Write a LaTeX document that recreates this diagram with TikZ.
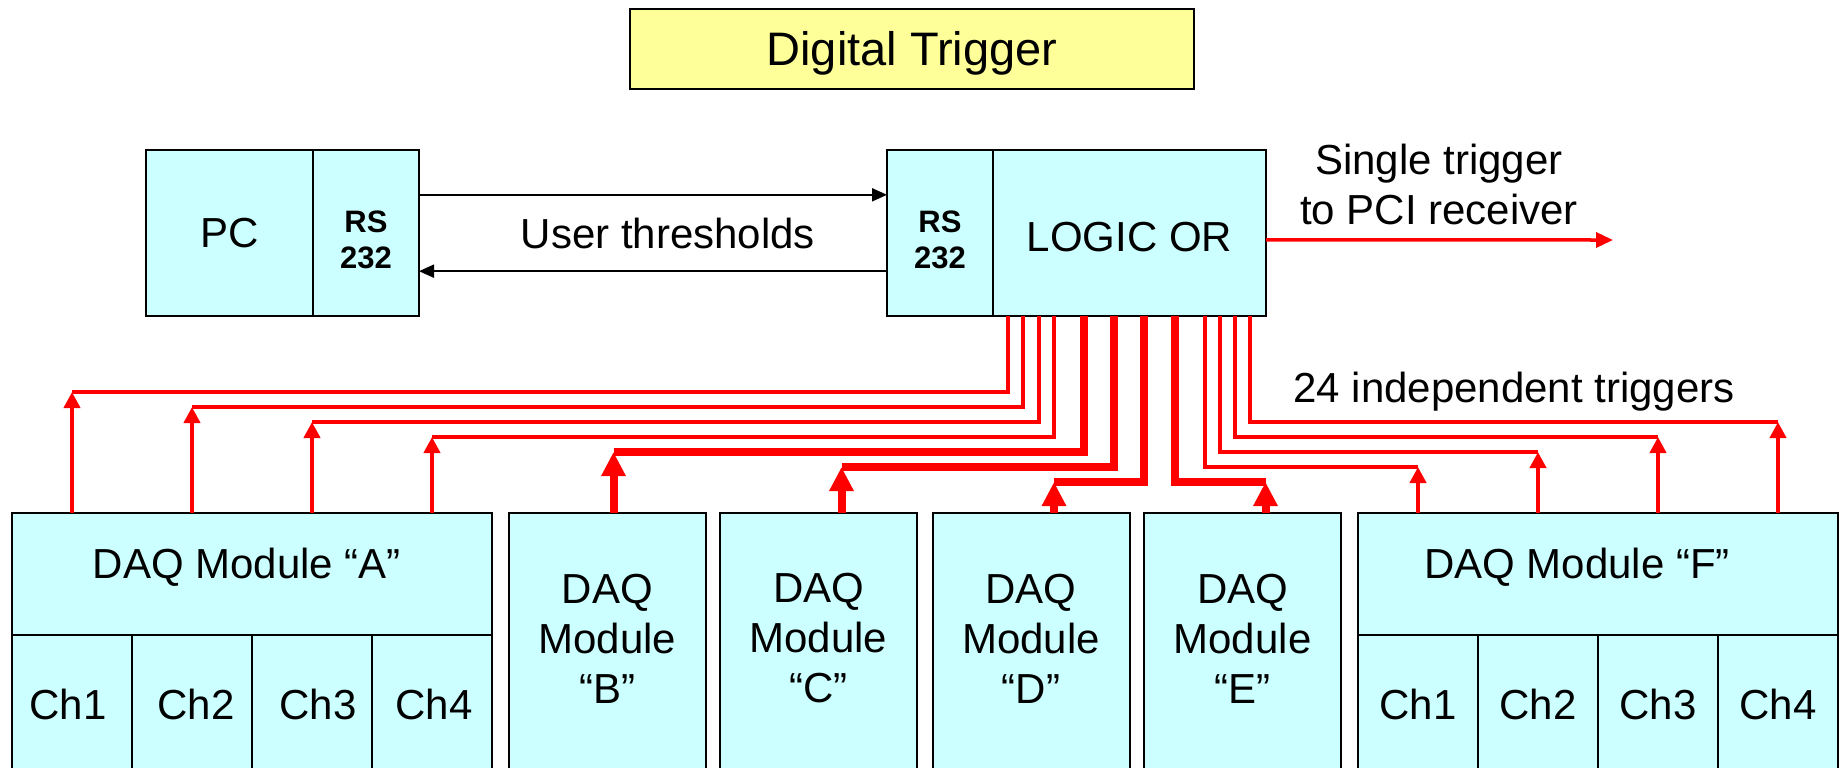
\documentclass[tikz,border=0pt]{standalone}
\usepackage{fontspec}
\setmainfont{Liberation Sans}
\usetikzlibrary{arrows.meta,calc}
\definecolor{boxcyan}{HTML}{CCFFFF}
\definecolor{titleyellow}{HTML}{FFFF99}
\definecolor{trigred}{HTML}{FF0000}

\begin{document}
\begin{tikzpicture}[x=1pt,y=-1pt,
  box/.style={draw=black, line width=2pt, fill=boxcyan, inner sep=0pt, outer sep=0pt},
  lbl/.style={font=\fontsize{42}{50}\selectfont, align=center, inner sep=0pt},
  rslbl/.style={font=\fontsize{31}{36}\selectfont\bfseries, align=center, inner sep=0pt},
  link/.style={draw=black, line width=2pt, -{Triangle[width=13pt,length=15pt]}},
  trig/.style={draw=trigred, line width=4.5pt},
  trigbus/.style={draw=trigred, line width=8pt},
  thintip/.style={-{Triangle[width=16pt,length=16pt]}},
  thicktip/.style={-{Triangle[width=23pt,length=24pt]}},
]
\useasboundingbox (0,0) rectangle (1845,768);
\clip (0,0) rectangle (1845,768);

% title
\node[draw=black, line width=2.5pt, fill=titleyellow, minimum width=564pt,
      minimum height=80pt] (title) at (912,49) {};
\node[lbl, font=\fontsize{47}{56}\selectfont] (titletext) at ($(title.center)+(0,4)$) {Digital Trigger};

% PC with its serial port
\node[box, minimum width=167pt, minimum height=166pt] (pc) at (229.5,233) {};
\node[box, minimum width=106pt, minimum height=166pt] (pcrs) at (366,233) {};
\node[lbl] (pctext) at (pc.center) {PC};
\node[rslbl] (pcrstext) at ($(pcrs.center)+(0,7)$) {RS\\232};

% trigger logic with its serial port
\node[box, minimum width=106pt, minimum height=166pt] (lors) at (940,233) {};
\node[box, minimum width=273pt, minimum height=166pt] (lor) at (1129.5,233) {};
\node[rslbl] (lorstext) at ($(lors.center)+(0,7)$) {RS\\232};
\node[lbl] (lortext) at ($(lor.center)+(0,4)$) {LOGIC OR};

% serial link
\draw[link] ($(pcrs.north east)!0.27!(pcrs.south east)$) -- ($(lors.north west)!0.27!(lors.south west)$);
\draw[link] ($(lors.north west)!0.73!(lors.south west)$) -- ($(pcrs.north east)!0.73!(pcrs.south east)$);
\node[lbl] (thr) at (668,233) {User thresholds};

% single trigger output
\coordinate (pci) at (1613,240);
\draw[draw=trigred, line width=3.5pt, -{Triangle[width=15pt,length=17pt]}]
  ($(lor.north east)!0.542!(lor.south east)$) -- (pci);
\node[lbl] (pcitext) at (1439,184) {Single trigger\\to PCI receiver};
\node[lbl] (indep) at (1514,392) {24 independent triggers};

% DAQ module A
\node[box, minimum width=480pt, minimum height=122pt] (modA) at (252,574) {};
\node[lbl] (modAtext) at ($(modA.center)+(-5,-7)$) {DAQ Module “A”};
\foreach \i/\cx/\tx in {1/72/-4,2/192/4,3/312/6,4/432/2}{
  \node[box, minimum width=120pt, minimum height=138pt] (chA\i) at (\cx,704) {};
  \node[lbl] (chA\i text) at ($(chA\i.center)+(\tx,0)$) {Ch\i};
}

% DAQ modules B to E
\foreach \m/\cx in {B/607.5,C/818.5,D/1031,E/1242.5}{
  \node[box, minimum width=197pt, minimum height=270pt] (mod\m) at (\cx,648) {};
  \node[lbl] (mod\m text) at ($(mod\m.north)+(0,125.5)$) {DAQ\\Module\\“\m”};
}

% DAQ module F
\node[box, minimum width=480pt, minimum height=122pt] (modF) at (1598,574) {};
\node[lbl] (modFtext) at ($(modF.center)+(-21,-7)$) {DAQ Module “F”};
\foreach \i/\cx in {1/1418,2/1538,3/1658,4/1778}{
  \node[box, minimum width=120pt, minimum height=138pt] (chF\i) at (\cx,704) {};
  \node[lbl] (chF\i text) at (chF\i.center) {Ch\i};
}

% routing levels of the trigger lines
\coordinate (lv1) at (0,392);
\coordinate (lv2) at (0,407);
\coordinate (lv3) at (0,422);
\coordinate (lv4) at (0,437);
\coordinate (lv5) at (0,452);
\coordinate (lv6) at (0,467);
\coordinate (lv7) at (0,482);

% taps on the bottom of the logic box
\foreach \t/\dx in {1/15,2/30,3/46,4/61,5/91,6/121,7/151,8/182,9/212,10/227,11/242,12/257}{
  \coordinate (t\t) at ($(lor.south west)+(\dx,0)$);
}

% single-channel triggers, module A
\foreach \i/\t/\l in {1/1/1,2/2/2,3/3/3,4/4/4}{
  \draw[trig] (t\t) |- (chA\i |- lv\l);
  \draw[trig,thintip] (chA\i |- modA.north) -- (chA\i |- lv\l);
}

% single-channel triggers, module F
\foreach \i/\t/\l in {1/9/6,2/10/5,3/11/4,4/12/3}{
  \draw[trig] (t\t) |- (chF\i |- lv\l);
  \draw[trig,thintip] (chF\i |- modF.north) -- (chF\i |- lv\l);
}

% module triggers, B to E
\coordinate (bB) at ($(modB.north)+(6,0)$);
\coordinate (bC) at ($(modC.north)+(23,0)$);
\coordinate (bD) at ($(modD.north)+(23,0)$);
\coordinate (bE) at ($(modE.north)+(23,0)$);
\foreach \m/\t/\l in {B/5/5,C/6/6,D/7/7,E/8/7}{
  \draw[trigbus] (t\t) |- (b\m |- lv\l);
  \draw[trigbus,thicktip] (b\m) -- (b\m |- lv\l);
}
\end{tikzpicture}
\end{document}
